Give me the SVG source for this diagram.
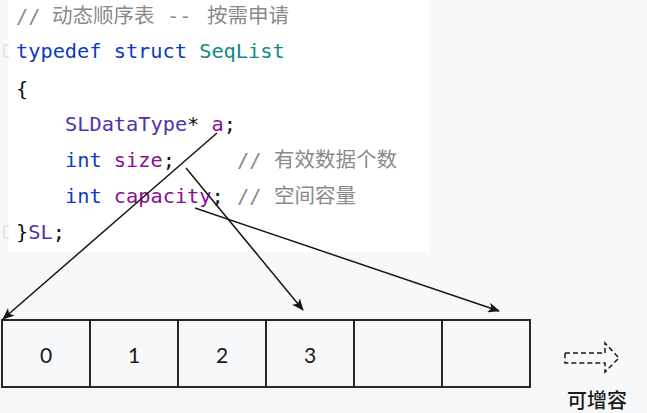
<svg xmlns="http://www.w3.org/2000/svg" width="647" height="413" viewBox="0 0 647 413">
<defs>
<style>
.code{font-family:"DejaVu Sans Mono","Liberation Mono","Noto Sans CJK SC",monospace;font-size:20.3px;}
.cjk{font-family:"Noto Sans CJK SC",sans-serif;font-size:20.5px;fill:#8a8a8a;}
.cm{fill:#8a8a8a;}
.kw{fill:#0a3bc2;}
.ty{fill:#0e8a84;}
.tp{fill:#4b35a8;}
.fd{fill:#871094;}
.pn{fill:#111;}
.cell{fill:none;stroke:#2b2428;stroke-width:2;}
.num{font-family:"Lato","Noto Sans",sans-serif;font-size:21px;fill:#1a1a1a;text-anchor:middle;}
.conn{stroke:#1a1416;stroke-width:1.5;fill:none;marker-end:url(#ah);}
.lbl{font-family:"Noto Sans CJK SC",sans-serif;font-size:20px;font-weight:500;fill:#1a1a1a;text-anchor:middle;}
.fold{fill:none;stroke:#d4d4d4;stroke-width:1;}
</style>
<marker id="ah" markerUnits="userSpaceOnUse" markerWidth="12" markerHeight="10" refX="11" refY="5" orient="auto">
<path d="M0,0 L12,5 L0,10 L3,5 Z" fill="#1a1416"/>
</marker>
</defs>
<rect x="0" y="0" width="647" height="413" fill="#f7f8fa"/>
<rect x="8" y="0" width="422" height="252" fill="#ffffff"/>
<g id="code">
<path class="fold" d="M9,45 H4 V57 H9"/>
<path class="fold" d="M9,226 H4 V238 H9"/>
<text class="code cm" x="16" y="23">//</text>
<text class="cjk" x="52" y="23">动态顺序表</text>
<text class="code cm" x="167" y="23">--</text>
<text class="cjk" x="207" y="23">按需申请</text>
<text class="code" x="16" y="58"><tspan class="kw">typedef struct</tspan> <tspan class="ty">SeqList</tspan></text>
<text class="code pn" x="16" y="96">{</text>
<text class="code" x="65" y="131"><tspan class="tp">SLDataType</tspan><tspan class="pn">*</tspan> <tspan class="fd">a</tspan><tspan class="pn">;</tspan></text>
<text class="code" x="65" y="167"><tspan class="kw">int</tspan> <tspan class="fd">size</tspan><tspan class="pn">;</tspan></text>
<text class="code cm" x="237" y="167">//</text>
<text class="cjk" x="274" y="167">有效数据个数</text>
<text class="code" x="65" y="203"><tspan class="kw">int</tspan> <tspan class="fd">capacity</tspan><tspan class="pn">;</tspan></text>
<text class="code cm" x="237" y="203">//</text>
<text class="cjk" x="274" y="203">空间容量</text>
<text class="code" x="16" y="239"><tspan class="pn">}</tspan><tspan class="tp">SL</tspan><tspan class="pn">;</tspan></text>
</g>
<g id="array">
<rect class="cell" x="2" y="320" width="528" height="67"/>
<line class="cell" x1="90" y1="320" x2="90" y2="387"/>
<line class="cell" x1="178" y1="320" x2="178" y2="387"/>
<line class="cell" x1="266" y1="320" x2="266" y2="387"/>
<line class="cell" x1="354" y1="320" x2="354" y2="387"/>
<line class="cell" x1="442" y1="320" x2="442" y2="387"/>
<text class="num" x="46" y="363">0</text>
<text class="num" x="134" y="363">1</text>
<text class="num" x="222" y="363">2</text>
<text class="num" x="310" y="363">3</text>
</g>
<g id="connectors">
<line class="conn" x1="217" y1="133" x2="3" y2="319"/>
<line class="conn" x1="186" y1="168" x2="303" y2="310"/>
<line class="conn" x1="195" y1="208" x2="499" y2="311"/>
</g>
<g id="grow">
<path d="M565,353 H605 V343 L619,358 L605,372 V363 H565 Z" fill="none" stroke="#1a1a1a" stroke-width="1.5" stroke-dasharray="5,3"/>
<text class="lbl" x="597" y="408">可增容</text>
</g>
</svg>
